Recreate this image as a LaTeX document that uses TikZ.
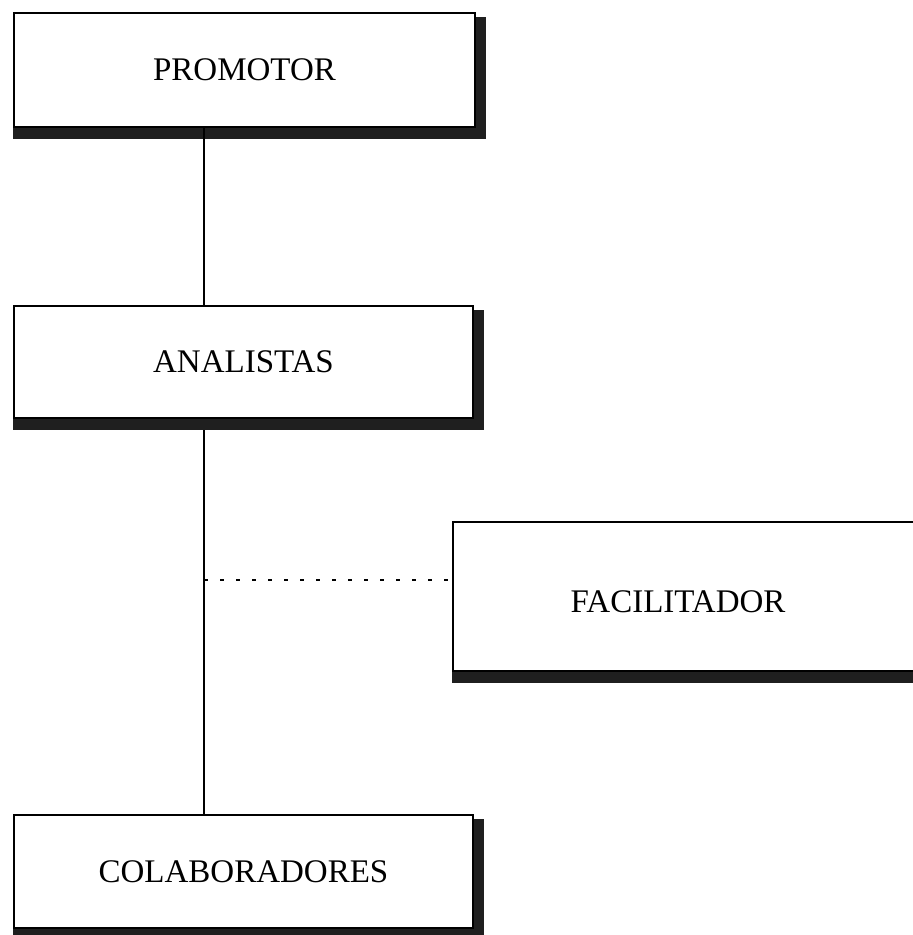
\documentclass[tikz,border=0pt]{standalone}
\usepackage{fontspec}
\setmainfont{Liberation Serif}
\begin{document}
\begin{tikzpicture}[x=1pt,y=-1pt,
  orgbox/.style={draw=black, line width=2pt, fill=white, inner sep=0pt,
    font=\fontsize{33}{39}\selectfont},
  link/.style={line width=2pt, black},
  dotlink/.style={line width=2pt, black, dash pattern=on 4pt off 12pt},
  shade/.style={fill=black!88}]
\useasboundingbox (0,0) rectangle (913,935);
\clip (0,0) rectangle (913,935);

% positions of the vertical spine and the dotted branch
\coordinate (spine) at (204,0);
\coordinate (branch) at (0,580);

% boxes
\node[orgbox, minimum width=461pt, minimum height=114pt] (p) at (244.5,70) {PROMOTOR};
\node[orgbox, minimum width=459pt, minimum height=112pt] (a) at (243.5,362) {ANALISTAS};
\node[orgbox, minimum width=480pt, minimum height=149pt] (f) at (693,596.5) {};
\node[font=\fontsize{33}{39}\selectfont] (ft) at (678,602) {FACILITADOR};
\node[orgbox, minimum width=459pt, minimum height=113pt] (c) at (243.5,871.5) {COLABORADORES};

% drop shadows along the right and bottom edges
\foreach \n in {p,a,c,f}{
  \fill[shade] (\n.south west) rectangle ([shift={(10,11)}]\n.south east);
  \fill[shade] ([shift={(0,5)}]\n.north east) rectangle ([shift={(10,11)}]\n.south east);
}

% connectors
\draw[link] (p.south -| spine) -- (a.north -| spine);
\draw[link] ([yshift=-11pt]a.south -| spine) -- (c.north -| spine);
\draw[dotlink] (spine |- branch) -- (f.west |- branch);
\end{tikzpicture}
\end{document}
